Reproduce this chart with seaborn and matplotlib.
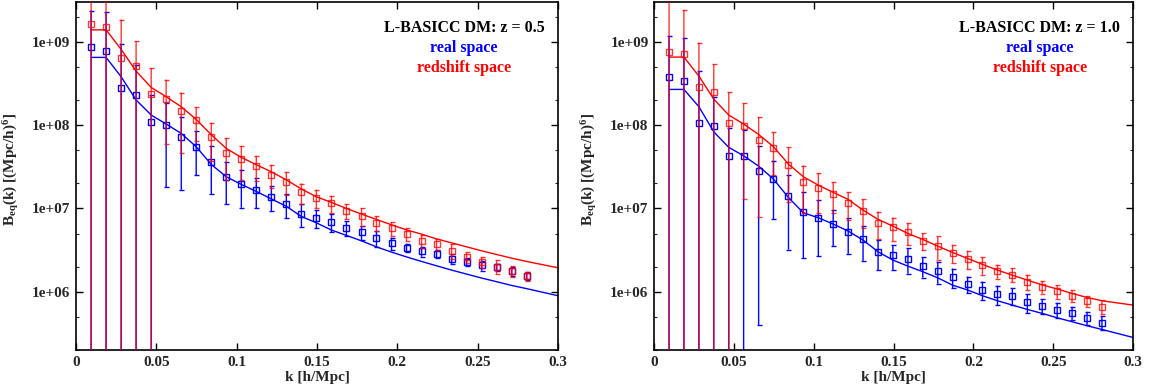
import numpy as np
import pandas as pd
import matplotlib
matplotlib.use("Agg")
import matplotlib.pyplot as plt
from matplotlib.ticker import LogLocator, FixedLocator, NullFormatter
import seaborn as sns

# wavenumber bins [h/Mpc]
k_bins = [0.0094, 0.0187, 0.0281, 0.0374, 0.0468, 0.0561, 0.0655, 0.0748, 0.0842, 0.0935,
          0.1029, 0.1122, 0.1216, 0.1309, 0.1403, 0.1496, 0.1590, 0.1683, 0.1777, 0.1870,
          0.1964, 0.2057, 0.2151, 0.2244, 0.2338, 0.2431, 0.2525, 0.2618, 0.2712, 0.2805]
k_theory = k_bins + [0.3000]

# z = 0.5 measurements
real_z05 = [8.63e8, 7.80e8, 2.76e8, 2.29e8, 1.09e8, 1.00e8, 7.17e7, 5.50e7, 3.57e7, 2.38e7,
            1.97e7, 1.66e7, 1.38e7, 1.13e7, 8.61e6, 7.71e6, 6.90e6, 5.85e6, 5.15e6, 4.44e6,
            3.80e6, 3.37e6, 3.05e6, 2.85e6, 2.48e6, 2.27e6, 2.07e6, 1.96e6, 1.77e6, 1.55e6]
real_err_z05 = [1.5e9, 1.5e9, 6.7e8, 3.0e8, 1.2e8, 8.2e7, 5.5e7, 3.0e7, 2.1e7, 1.25e7,
                9.5e6, 6.5e6, 4.6e6, 3.7e6, 2.6e6, 1.9e6, 1.7e6, 1.2e6, 9.7e5, 9.6e5,
                6.6e5, 4.0e5, 4.2e5, 3.0e5, 3.4e5, 2.5e5, 2.8e5, 2.0e5, 2.2e5, 1.8e5]
red_z05 = [1.63e9, 1.51e9, 6.43e8, 5.07e8, 2.34e8, 2.05e8, 1.46e8, 1.14e8, 7.17e7, 4.61e7,
           3.91e7, 3.22e7, 2.54e7, 2.07e7, 1.56e7, 1.34e7, 1.15e7, 9.28e6, 8.15e6, 6.72e6,
           5.75e6, 4.91e6, 4.08e6, 3.70e6, 3.10e6, 2.60e6, 2.25e6, 2.01e6, 1.77e6, 1.54e6]
red_err_z05 = [3.0e9, 1.6e9, 1.2e9, 5.1e8, 2.5e8, 1.45e8, 1.0e8, 4.9e7, 3.5e7, 2.4e7,
               1.7e7, 1.06e7, 8.0e6, 6.3e6, 4.3e6, 3.3e6, 2.7e6, 1.9e6, 1.95e6, 1.37e6,
               1.1e6, 8.4e5, 7.1e5, 5.5e5, 6.0e5, 3.6e5, 3.3e5, 3.7e5, 2.6e5, 1.8e5]
real_th_z05 = [6.49e8, 6.49e8, 3.80e8, 2.00e8, 1.32e8, 1.03e8, 7.94e7, 5.50e7, 3.37e7, 2.40e7,
               1.94e7, 1.60e7, 1.30e7, 1.06e7, 8.00e6, 6.72e6, 5.50e6, 4.75e6, 4.08e6, 3.46e6,
               2.99e6, 2.62e6, 2.31e6, 2.05e6, 1.82e6, 1.63e6, 1.46e6, 1.32e6, 1.19e6, 1.09e6,
               8.96e5]
red_th_z05 = [1.39e9, 1.39e9, 8.10e8, 4.44e8, 2.83e8, 2.19e8, 1.66e8, 1.17e8, 7.65e7, 5.25e7,
              4.09e7, 3.35e7, 2.75e7, 2.20e7, 1.71e7, 1.38e7, 1.18e7, 1.00e7, 8.55e6, 7.38e6,
              6.35e6, 5.53e6, 4.91e6, 4.31e6, 3.86e6, 3.46e6, 3.10e6, 2.80e6, 2.53e6, 2.31e6,
              1.94e6]

# z = 1.0 measurements
real_z10 = [3.80e8, 3.37e8, 1.05e8, 9.66e7, 4.28e7, 4.28e7, 2.83e7, 2.25e7, 1.42e7, 9.12e6,
            7.66e6, 6.55e6, 5.25e6, 4.25e6, 3.02e6, 2.73e6, 2.48e6, 2.03e6, 1.77e6, 1.50e6,
            1.24e6, 1.06e6, 9.38e5, 8.96e5, 7.46e5, 6.80e5, 6.08e5, 5.60e5, 4.87e5, 4.25e5]
real_err_z10 = [8.0e8, 7.8e8, 3.4e8, 1.2e8, 5.0e7, 4.4e7, 2.79e7, 1.5e7, 1.1e7, 6.6e6,
                5.0e6, 3.0e6, 2.4e6, 1.9e6, 1.2e6, 9.0e5, 8.3e5, 5.5e5, 5.2e5, 4.0e5,
                2.8e5, 2.6e5, 2.45e5, 2.0e5, 1.9e5, 1.4e5, 1.3e5, 1.0e5, 8.8e4, 8.0e4]
red_z10 = [7.59e8, 7.06e8, 2.88e8, 2.47e8, 1.06e8, 9.80e7, 6.60e7, 5.35e7, 3.31e7, 2.07e7,
           1.77e7, 1.47e7, 1.15e7, 9.36e6, 6.72e6, 5.92e6, 5.15e6, 4.08e6, 3.53e6, 2.93e6,
           2.48e6, 2.10e6, 1.77e6, 1.61e6, 1.32e6, 1.15e6, 1.01e6, 8.96e5, 7.73e5, 6.61e5]
red_err_z10 = [2.6e9, 1.7e9, 6.9e8, 2.9e8, 1.43e8, 8.5e7, 5.8e7, 2.85e7, 2.1e7, 1.2e7,
               9.0e6, 5.8e6, 4.2e6, 3.5e6, 2.4e6, 1.85e6, 1.55e6, 9.5e5, 1.1e6, 7.4e5,
               6.2e5, 5.0e5, 3.4e5, 3.0e5, 2.8e5, 2.0e5, 1.85e5, 1.4e5, 1.15e5, 1.25e5]
real_th_z10 = [2.68e8, 2.68e8, 1.66e8, 8.30e7, 5.40e7, 4.28e7, 3.22e7, 2.25e7, 1.35e7, 8.87e6,
               7.73e6, 6.49e6, 5.35e6, 4.17e6, 3.02e6, 2.40e6, 2.03e6, 1.74e6, 1.47e6, 1.20e6,
               1.05e6, 8.96e5, 7.80e5, 6.92e5, 6.14e5, 5.50e5, 4.87e5, 4.37e5, 3.91e5, 3.53e5,
               2.83e5]
red_th_z10 = [6.55e8, 6.55e8, 3.87e8, 2.05e8, 1.32e8, 1.03e8, 7.72e7, 5.50e7, 3.40e7, 2.40e7,
              1.90e7, 1.56e7, 1.28e7, 9.55e6, 7.38e6, 6.14e6, 5.00e6, 4.25e6, 3.53e6, 2.96e6,
              2.51e6, 2.13e6, 1.82e6, 1.58e6, 1.38e6, 1.21e6, 1.08e6, 9.55e5, 8.55e5, 7.80e5,
              6.92e5]

x_ticks = [0, 0.05, 0.1, 0.15, 0.2, 0.25, 0.3]
x_tick_labels = ["0", "0.05", "0.1", "0.15", "0.2", "0.25", "0.3"]
y_ticks = [1e6, 1e7, 1e8, 1e9]
y_tick_labels = ["1e+06", "1e+07", "1e+08", "1e+09"]

panels = [
    ("L-BASICC DM: z = 0.5", real_z05, real_err_z05, red_z05, red_err_z05, real_th_z05, red_th_z05),
    ("L-BASICC DM: z = 1.0", real_z10, real_err_z10, red_z10, red_err_z10, real_th_z10, red_th_z10),
]

BLUE = "#0000ff"
RED = "#ff0000"

sns.set_theme(style="ticks")
plt.rcParams["font.family"] = ["Liberation Serif", "DejaVu Serif"]
plt.rcParams["font.weight"] = "bold"
plt.rcParams["mathtext.fontset"] = "custom"
plt.rcParams["mathtext.rm"] = "Liberation Serif:bold"
plt.rcParams["mathtext.it"] = "Liberation Serif:bold"
plt.rcParams["mathtext.bf"] = "Liberation Serif:bold"

fig = plt.figure(figsize=(11.57, 3.92), dpi=100)
axes = [fig.add_axes([0.0657, 0.1071, 0.4166, 0.8878]),
        fig.add_axes([0.5653, 0.1071, 0.4140, 0.8878])]

for ax, (title, real, real_err, red, red_err, real_th, red_th) in zip(axes, panels):
    ax.set_yscale("log", nonpositive="clip")

    th = pd.DataFrame({"k": k_theory * 2,
                       "B": real_th + red_th,
                       "space": ["real"] * len(k_theory) + ["redshift"] * len(k_theory)})
    sns.lineplot(data=th, x="k", y="B", hue="space", palette={"real": BLUE, "redshift": RED},
                 linewidth=1.0, legend=False, ax=ax, estimator=None, sort=False)

    eb_real = ax.errorbar(k_bins, real, yerr=real_err, fmt="s", color=BLUE, mfc="none", mec=BLUE,
                          ms=4.2, mew=1.0, elinewidth=1.0, capsize=1.8, capthick=1.0, zorder=3)
    eb_red = ax.errorbar(k_bins, red, yerr=red_err, fmt="s", color=RED, mfc="none", mec=RED,
                         ms=4.2, mew=1.0, elinewidth=1.0, capsize=1.8, capthick=1.0,
                         alpha=0.78, zorder=4)
    for eb in (eb_real, eb_red):
        for coll in eb[2]:
            coll.set_snap(False)
        for cap in eb[1]:
            cap.set_snap(False)

    ax.set_xlim(0, 0.3)
    ax.set_ylim(2e5, 3e9)

    ax.xaxis.set_major_locator(FixedLocator(x_ticks))
    ax.set_xticklabels(x_tick_labels)
    ax.yaxis.set_major_locator(FixedLocator(y_ticks))
    ax.set_yticklabels(y_tick_labels)
    ax.yaxis.set_minor_locator(LogLocator(base=10, subs=(2.0, 5.0)))
    ax.yaxis.set_minor_formatter(NullFormatter())

    ax.tick_params(axis="both", which="major", direction="in", length=5, width=1.0,
                   top=True, right=True, labelsize=11, pad=4, color="black")
    ax.tick_params(axis="y", which="minor", direction="in", length=2.5, width=0.8,
                   right=True, left=True)
    ax.tick_params(axis="x", which="minor", bottom=False, top=False)
    for lab in ax.get_xticklabels() + ax.get_yticklabels():
        lab.set_fontweight("bold")

    for sp in ax.spines.values():
        sp.set_linewidth(1.2)
        sp.set_color("black")

    ax.set_xlabel("k [h/Mpc]", fontsize=11, fontweight="bold", labelpad=2)
    ax.set_ylabel(r"B$_{\mathregular{eq}}$(k) [(Mpc/h)$^{\mathregular{6}}$]", fontsize=11,
                  fontweight="bold")
    ax.yaxis.set_label_coords(-0.115, 0.52)

    ax.text(0.805, 0.925, title, transform=ax.transAxes, ha="center", va="center",
            fontsize=11.5, fontweight="bold", color="black")
    ax.text(0.805, 0.867, "real space", transform=ax.transAxes, ha="center", va="center",
            fontsize=11.5, fontweight="bold", color=BLUE)
    ax.text(0.805, 0.810, "redshift space", transform=ax.transAxes, ha="center", va="center",
            fontsize=11.5, fontweight="bold", color=RED)

fig.savefig("out.png", dpi=100, facecolor="white")
